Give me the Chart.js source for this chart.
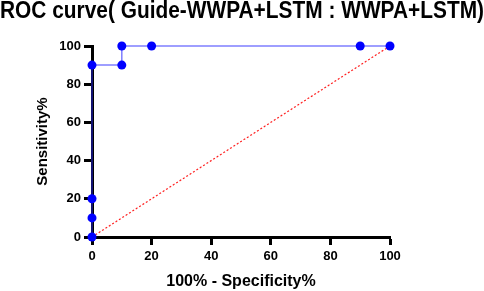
<!DOCTYPE html>
<html>
<head>
<meta charset="utf-8">
<script src="https://cdn.jsdelivr.net/npm/chart.js@4.4.1/dist/chart.umd.min.js"></script>
<style>
  body { margin: 0; background: #fff; }
</style>
</head>
<body>
<canvas id="roc_chart" width="484" height="291"></canvas>
<script>
    // ROC points (100% - specificity, sensitivity)
    const fpr = [0, 0, 0, 0, 10, 10, 20, 90, 100];
    const tpr = [0, 10, 20, 90, 90, 100, 100, 100, 100];

    // chance line
    const chanceX = [0, 100];
    const chanceY = [0, 100];

    const tickValues = [0, 20, 40, 60, 80, 100];

    function toPoints(xs, ys) {
        let pts = [];
        for (let i = 0; i < xs.length; i++) {
            pts.push({ x: xs[i], y: ys[i] });
        }
        return pts;
    }

    const fontName = "'Liberation Sans', Arial, sans-serif";

    const data = {
        datasets: [{
            label: "Guide-WWPA+LSTM",
            data: toPoints(fpr, tpr),
            showLine: true,
            borderColor: 'rgba(40, 40, 255, 0.6)',
            borderWidth: 1.5,
            pointRadius: 4.5,
            pointBackgroundColor: '#0000ff',
            pointBorderColor: '#0000ff',
            pointBorderWidth: 0,
            clip: false
        }, {
            label: "chance",
            data: toPoints(chanceX, chanceY),
            showLine: true,
            borderColor: '#ff2020',
            borderWidth: 1.2,
            borderDash: [2, 2],
            pointRadius: 0,
            clip: false
        }]
    };

    const axisCommon = {
        type: 'linear',
        min: 0,
        max: 100,
        border: { display: true, color: '#000', width: 3 },
        grid: {
            drawOnChartArea: false,
            drawTicks: true,
            tickLength: 8,
            tickWidth: 3,
            tickColor: '#000'
        },
        afterBuildTicks: function (scale) {
            scale.ticks = tickValues.map(v => ({ value: v }));
        }
    };

    const config = {
        type: 'scatter',
        data: data,
        options: {
            responsive: false,
            animation: false,
            layout: { padding: 0 },
            plugins: {
                legend: { display: false },
                tooltip: { enabled: false },
                title: {
                    display: true,
                    text: 'ROC curve( Guide-WWPA+LSTM : WWPA+LSTM)',
                    color: '#000',
                    font: { family: fontName, size: 23, weight: 'bold', lineHeight: 1.0 },
                    padding: { top: 0, bottom: 23 }
                }
            },
            scales: {
                x: Object.assign({}, axisCommon, {
                    ticks: {
                        color: '#000',
                        padding: 4,
                        maxRotation: 0,
                        font: { family: fontName, size: 13, weight: 'bold' }
                    },
                    title: {
                        display: true,
                        text: '100% - Specificity%',
                        color: '#000',
                        font: { family: fontName, size: 16, weight: 'bold' },
                        padding: { top: 0, bottom: 0 }
                    },
                    afterFit: function (scale) { scale.height = 54; }
                }),
                y: Object.assign({}, axisCommon, {
                    ticks: {
                        color: '#000',
                        padding: 3,
                        font: { family: fontName, size: 13, weight: 'bold' }
                    },
                    title: {
                        display: true,
                        text: 'Sensitivity%',
                        color: '#000',
                        font: { family: fontName, size: 15, weight: 'bold' },
                        padding: { top: 34, bottom: 0 }
                    },
                    afterFit: function (scale) { scale.width = 92; }
                }),
                // empty right axis, only keeps the white space on the right
                yRight: {
                    type: 'linear',
                    position: 'right',
                    min: 0,
                    max: 100,
                    grid: { display: false },
                    border: { display: false },
                    ticks: { display: false },
                    afterFit: function (scale) { scale.width = 94; }
                }
            }
        }
    };

    const rocChart = new Chart(document.getElementById('roc_chart'), config);
</script>
</body>
</html>
